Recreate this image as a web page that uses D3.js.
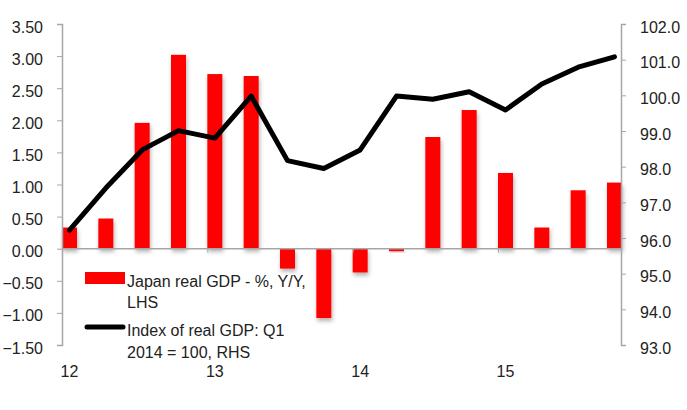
<!DOCTYPE html>
<html>
<head>
<meta charset="utf-8">
<script src="https://cdn.jsdelivr.net/npm/d3@7"></script>
<style>
  body { margin: 0; background: #ffffff; }
  text { font-family: "Liberation Sans", Arial, sans-serif; fill: #222; }
</style>
</head>
<body>
<div id="chart"></div>
<script>
// Japan real GDP: y/y % bars (LHS) and index line (RHS), 2012Q1 - 2015Q4

const quarters = ["12Q1","12Q2","12Q3","12Q4","13Q1","13Q2","13Q3","13Q4",
                  "14Q1","14Q2","14Q3","14Q4","15Q1","15Q2","15Q3","15Q4"];
const gdpYoY = [0.33, 0.47, 1.96, 3.02, 2.72, 2.69, -0.31, -1.08,
                -0.37, -0.04, 1.74, 2.16, 1.18, 0.33, 0.91, 1.03];
const gdpIndex = [96.22, 97.40, 98.47, 99.01, 98.80, 99.98, 98.17, 97.95,
                  98.47, 99.98, 99.89, 100.10, 99.59, 100.32, 100.79, 101.08];
const yearLabels = ["12", "13", "14", "15"];
const leftTicks = [-1.5, -1.0, -0.5, 0, 0.5, 1.0, 1.5, 2.0, 2.5, 3.0, 3.5];
const rightTicks = [93, 94, 95, 96, 97, 98, 99, 100, 101, 102];
const legendLabels = [["Japan real GDP - %, Y/Y,", "LHS"],
                      ["Index of real GDP: Q1", "2014 = 100, RHS"]];

const width = 687, height = 410;
const axisLeftX = 62, axisRightX = 621;
const plotTop = 24, plotBottom = 345;
const barW = 15;
const gray = "#a6a6a6";

const svg = d3.select("#chart").append("svg")
    .attr("width", width)
    .attr("height", height);

const defs = svg.append("defs");
const shadow = defs.append("filter").attr("id", "shadow")
    .attr("x", "-50%").attr("y", "-20%").attr("width", "200%").attr("height", "150%");
shadow.append("feDropShadow")
    .attr("dx", 1).attr("dy", 3).attr("stdDeviation", 2)
    .attr("flood-color", "#000").attr("flood-opacity", 0.3);

const x = d3.scalePoint()
    .domain(quarters)
    .range([69.5, 614.5]);

const yL = d3.scaleLinear().domain([-1.5, 3.5]).range([plotBottom, plotTop]);
const yR = d3.scaleLinear().domain([93, 102]).range([plotBottom, plotTop]);

// bars
svg.append("g").selectAll("rect")
    .data(gdpYoY)
    .join("rect")
    .attr("x", (d, i) => x(quarters[i]) - barW / 2)
    .attr("y", d => yL(Math.max(0, d)))
    .attr("width", barW)
    .attr("height", d => Math.abs(yL(d) - yL(0)))
    .attr("fill", "#ff0000")
    .attr("filter", "url(#shadow)");

// zero line
svg.append("line")
    .attr("x1", axisLeftX).attr("x2", axisRightX)
    .attr("y1", yL(0)).attr("y2", yL(0))
    .attr("stroke", gray).attr("stroke-width", 1.5);

// year ticks on zero line
svg.append("g").selectAll("line")
    .data(yearLabels.slice(1))
    .join("line")
    .attr("x1", (d, i) => x(quarters[(i + 1) * 4]) - 7)
    .attr("x2", (d, i) => x(quarters[(i + 1) * 4]) - 7)
    .attr("y1", yL(0)).attr("y2", yL(0) + 4)
    .attr("stroke", gray).attr("stroke-width", 1);

// left axis
const axL = svg.append("g")
    .attr("transform", `translate(${axisLeftX},0)`)
    .call(d3.axisLeft(yL).tickValues(leftTicks).tickFormat(d3.format(".2f")).tickSize(5).tickPadding(14));
axL.select(".domain").attr("stroke", gray).attr("stroke-width", 1.5);
axL.selectAll(".tick line").attr("stroke", gray);
axL.selectAll(".tick text")
    .attr("font-size", 16).attr("dy", "0.5em")
    .attr("font-family", "Liberation Sans, Arial, sans-serif").attr("fill", "#222");

// right axis
const axR = svg.append("g")
    .attr("transform", `translate(${axisRightX},0)`)
    .call(d3.axisRight(yR).tickValues(rightTicks).tickFormat(d3.format(".1f")).tickSize(5).tickPadding(14));
axR.select(".domain").attr("stroke", gray).attr("stroke-width", 1.5);
axR.selectAll(".tick line").attr("stroke", gray);
axR.selectAll(".tick text")
    .attr("font-size", 16).attr("dy", "0.5em")
    .attr("font-family", "Liberation Sans, Arial, sans-serif").attr("fill", "#222");

// year labels
svg.append("g").selectAll("text")
    .data(yearLabels)
    .join("text")
    .attr("x", (d, i) => x(quarters[i * 4]))
    .attr("y", 377)
    .attr("text-anchor", "middle")
    .attr("font-size", 16)
    .text(d => d);

// index line
const line = d3.line()
    .x((d, i) => x(quarters[i]))
    .y(d => yR(d));

svg.append("path")
    .datum(gdpIndex)
    .attr("d", line)
    .attr("fill", "none")
    .attr("stroke", "#000")
    .attr("stroke-width", 5)
    .attr("stroke-linejoin", "round")
    .attr("stroke-linecap", "round");

// legend
const legend = svg.append("g");
legend.append("rect")
    .attr("x", 85).attr("y", 272)
    .attr("width", 40).attr("height", 12)
    .attr("fill", "#ff0000");
legend.append("line")
    .attr("x1", 87).attr("x2", 123)
    .attr("y1", 327).attr("y2", 327)
    .attr("stroke", "#000").attr("stroke-width", 5)
    .attr("stroke-linecap", "round");

const baselines = [[287, 308], [336, 358]];
legendLabels.forEach((lines, k) => {
    lines.forEach((t, j) => {
        legend.append("text")
            .attr("x", 127)
            .attr("y", baselines[k][j])
            .attr("font-size", 16)
            .text(t);
    });
});
</script>
</body>
</html>
